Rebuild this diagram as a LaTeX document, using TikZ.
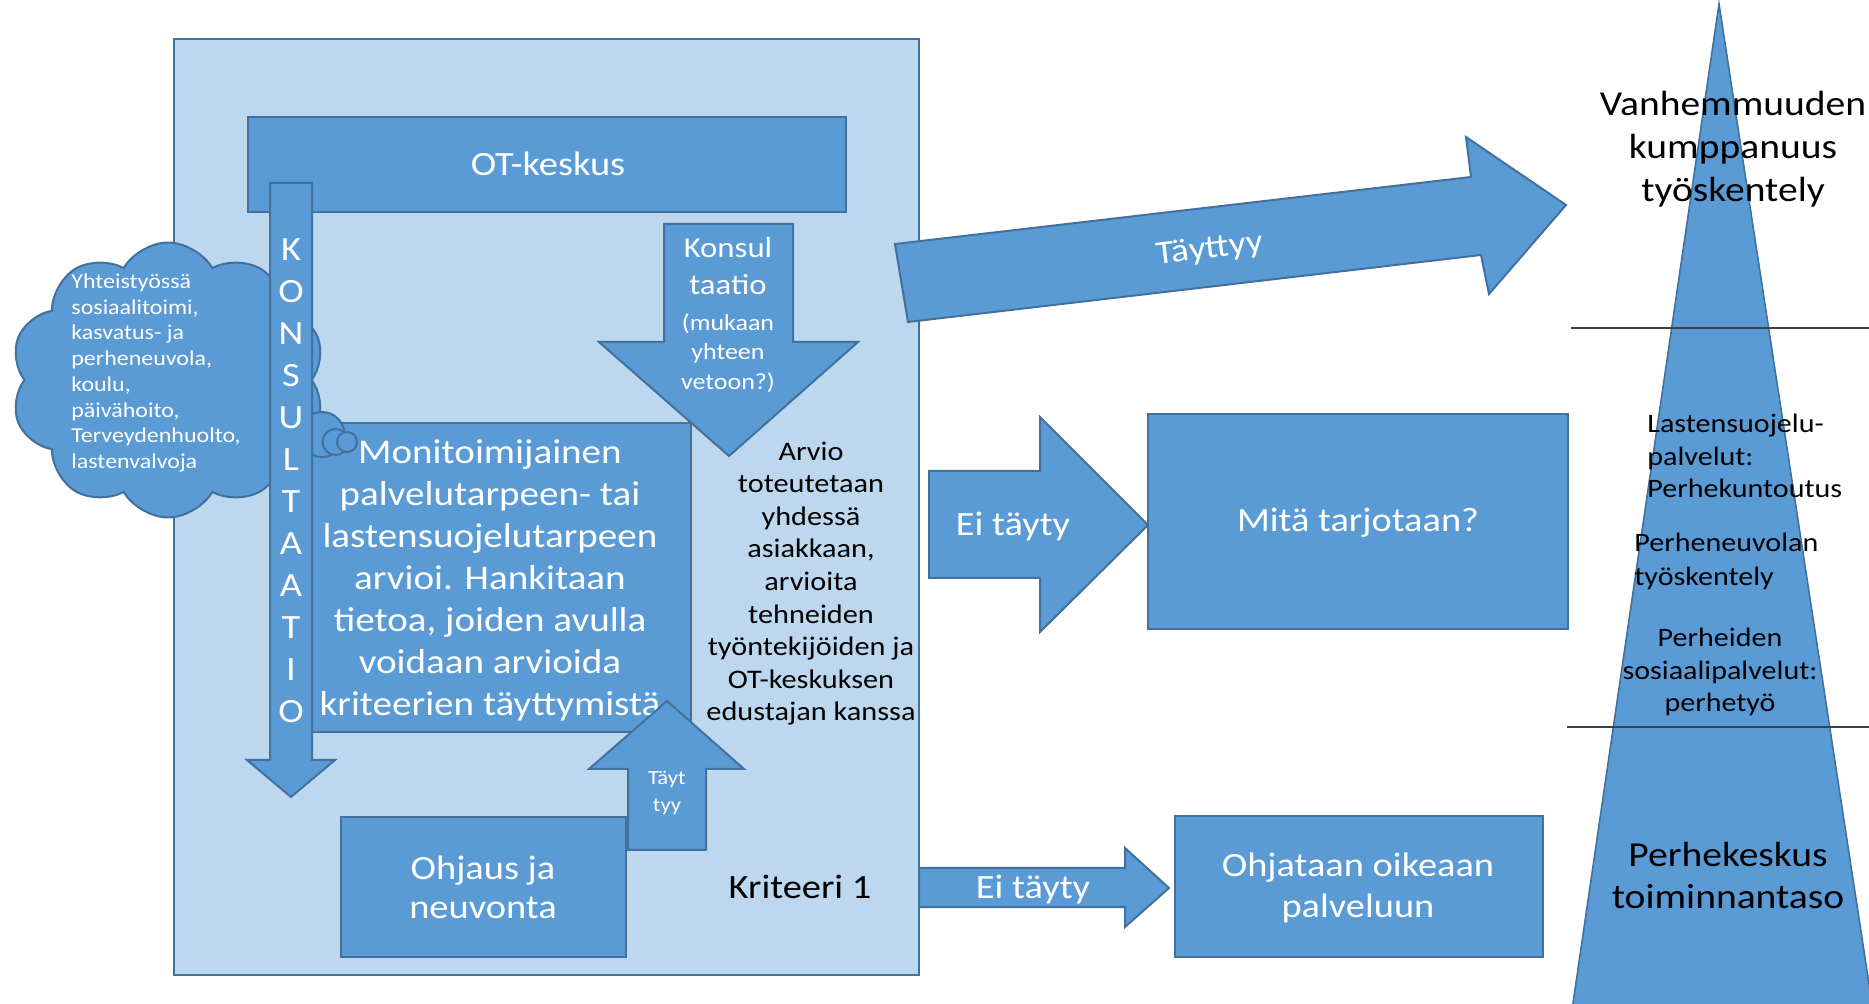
\documentclass[tikz,border=0pt]{standalone}
\usepackage{fontspec}
\setmainfont{Carlito}[FakeStretch=1.13]
\usetikzlibrary{shapes.symbols}
\definecolor{bl}{HTML}{5B9BD5}
\definecolor{bd}{HTML}{41719C}
\definecolor{lt}{HTML}{BDD7EE}
\newcommand\myfs[2]{\fontsize{#1}{#2}\selectfont}
\begin{document}
\begin{tikzpicture}[x=0.5pt,y=-0.5pt,
  blk/.style={fill=bl,draw=bd,line width=1pt,line join=miter},
  wt/.style={text=white,inner sep=0pt,align=center},
  bt/.style={text=black,inner sep=0pt,align=center}]
\useasboundingbox (0,0) rectangle (1869,1004);
\fill[white] (0,0) rectangle (1869,1004);

% outer criterion box
\draw[fill=lt,draw=bd,line width=1pt] (174,39) rectangle (919,975);

% OT-keskus
\draw[blk] (248,117) rectangle (846,212);
\node[wt,font=\myfs{17}{21}] (ot) at (548,164) {OT-keskus};

% Monitoimijainen box
\draw[blk] (290,423) rectangle (691,732);
\node[wt,font=\myfs{17.3}{21}] (moni) at (490,580) {Monitoimijainen\\palvelutarpeen- tai\\lastensuojelutarpeen\\arvioi. Hankitaan\\tietoa, joiden avulla\\voidaan arvioida\\kriteerien täyttymistä};

% cloud
\node[cloud,cloud puffs=10,cloud puff arc=120,cloud ignores aspect,
      minimum width=157.5pt,minimum height=137.5pt,blk,inner sep=0pt] (cloud) at (168,380) {};
\node[wt,align=left,anchor=west,font=\myfs{10.6}{12.85}] (ctext) at (71,373)
  {Yhteistyössä\\sosiaalitoimi,\\kasvatus- ja\\perheneuvola,\\koulu,\\päivähoito,\\Terveydenhuolto,\\lastenvalvoja};
\draw[blk] (322,434.5) circle (11.25pt);
\draw[blk] (335.5,442) circle (6.5pt);
\draw[blk] (347,442) circle (5pt);

% KONSULTAATIO arrow
\draw[blk] (270,183) -- (312,183) -- (312,760) -- (335,760) -- (291,797) -- (247,760) -- (270,760) -- cycle;
\node[wt,font=\myfs{17}{21}] (kons) at (291,481) {K\\O\\N\\S\\U\\L\\T\\A\\A\\T\\I\\O};

% Konsultaatio down arrow
\draw[blk] (664,224) -- (793,224) -- (793,342) -- (858,342) -- (729,456) -- (599,342) -- (664,342) -- cycle;
\node[wt,font=\myfs{14.5}{18.5}] (konsul) at (728,266) {Konsul\\taatio};
\node[wt,font=\myfs{11.5}{14.75}] (mukaan) at (728,353) {(mukaan\\yhteen\\vetoon?)};

% Arvio text
\node[bt,font=\myfs{13.4}{16.3}] (arvio) at (811,583.5)
  {Arvio\\toteutetaan\\yhdessä\\asiakkaan,\\arvioita\\tehneiden\\työntekijöiden ja\\OT-keskuksen\\edustajan kanssa};

% Täyttyy up arrow
\draw[blk] (628,850) -- (628,769) -- (589,769) -- (667,701) -- (744,769) -- (706,769) -- (706,850) -- cycle;
\node[wt,font=\myfs{10}{13.5}] (tayt) at (667,793) {Täyt\\tyy};

% Ohjaus ja neuvonta
\draw[blk] (341,817) rectangle (626,957);
\node[wt,font=\myfs{17}{19.5}] (ohj) at (483,887) {Ohjaus ja\\neuvonta};

\node[bt,font=\myfs{17}{21}] (krit) at (800,887) {Kriteeri 1};

% slanted Täyttyy arrow
\draw[blk] (908,322) -- (895,244) -- (1471,177) -- (1466,137) -- (1566,205) -- (1489,294) -- (1481,255) -- cycle;
\node[wt,font=\myfs{16.5}{20},rotate=6.6] (tayttyy) at (1210,250) {Täyttyy};

% middle Ei täyty arrow
\draw[blk] (929,471) -- (1040,471) -- (1040,417) -- (1148,525) -- (1040,632) -- (1040,578) -- (929,578) -- cycle;
\node[wt,font=\myfs{17}{21}] (ei1) at (1013,527) {Ei täyty};

% Mitä tarjotaan
\draw[blk] (1148,414) rectangle (1568,629);
\node[wt,font=\myfs{17}{21}] (mita) at (1358,523) {Mitä tarjotaan?};

% bottom Ei täyty arrow
\draw[blk] (919,868) -- (1125,868) -- (1125,848) -- (1169,888) -- (1125,927) -- (1125,907) -- (919,907) -- cycle;
\node[wt,font=\myfs{17}{21}] (ei2) at (1033,890) {Ei täyty};

% Ohjataan oikeaan palveluun
\draw[blk] (1175,816) rectangle (1543,957);
\node[wt,font=\myfs{17}{20.5}] (ohjat) at (1358,888) {Ohjataan oikeaan\\palveluun};

% triangle
\begin{scope}
\clip (0,0) rectangle (1869,1004);
\draw[fill=bl,draw=bd,line width=0.8pt] (1719,4) -- (1873,1010) -- (1572,1010) -- cycle;
\end{scope}
\coordinate (l1a) at (1571,328);
\coordinate (l1b) at (1869,328);
\coordinate (l2a) at (1567,727);
\coordinate (l2b) at (1869,727);
\draw[black!75,line width=0.7pt] (l1a) -- (l1b);
\draw[black!75,line width=0.7pt] (l2a) -- (l2b);

\node[bt,font=\myfs{17.5}{21.5}] (vanh) at (1733,149) {Vanhemmuuden\\kumppanuus\\työskentely};
\node[bt,align=left,anchor=west,font=\myfs{13.3}{16.25}] (last) at (1647,456) {Lastensuojelu-\\palvelut:\\Perhekuntoutus};
\node[bt,align=left,anchor=west,font=\myfs{13.3}{17}] (pneuv) at (1634,561) {Perheneuvolan\\työskentely};
\node[bt,font=\myfs{13.3}{16.25}] (pheid) at (1720,672) {Perheiden\\sosiaalipalvelut:\\perhetyö};
\node[bt,font=\myfs{17.5}{21}] (pkesk) at (1728,875) {Perhekeskus\\toiminnantaso};
\end{tikzpicture}
\end{document}
